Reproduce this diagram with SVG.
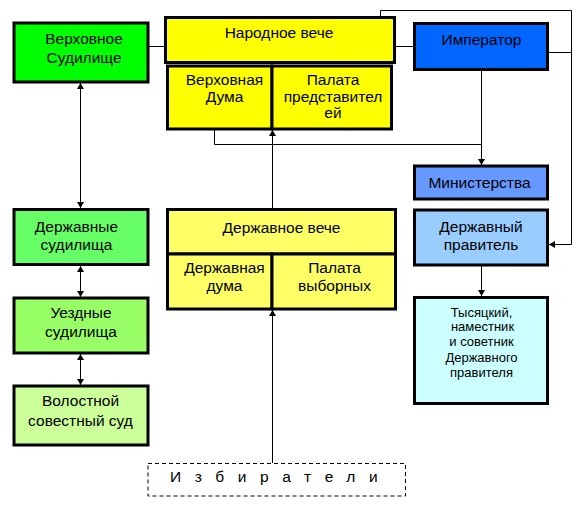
<svg xmlns="http://www.w3.org/2000/svg" width="580" height="506" viewBox="0 0 580 506">
<style>
.box{stroke:#000;stroke-width:3}
.t{font-family:"Liberation Sans",Arial,sans-serif;font-size:15.5px;fill:#000;text-anchor:middle}
.s{font-family:"Liberation Sans",Arial,sans-serif;font-size:13px;fill:#000;text-anchor:middle}
.c{fill:none;stroke:#000;stroke-width:1}
</style>
<defs>
<marker id="ar" viewBox="0 0 6 7" refX="6" refY="3.5" markerWidth="6" markerHeight="7" markerUnits="userSpaceOnUse" orient="auto-start-reverse">
<path d="M0,0 L6,3.5 L0,7 z" fill="#000"/>
</marker>
</defs>
<rect width="580" height="506" fill="#fff"/>
<g id="connectors">
<line class="c" x1="148" y1="46.5" x2="165" y2="46.5"/>
<line class="c" x1="395" y1="46.5" x2="414" y2="46.5"/>
<line class="c" x1="80.5" y1="83" x2="80.5" y2="208" marker-start="url(#ar)" marker-end="url(#ar)"/>
<line class="c" x1="80.5" y1="266" x2="80.5" y2="297" marker-start="url(#ar)" marker-end="url(#ar)"/>
<line class="c" x1="80.5" y1="354" x2="80.5" y2="385" marker-start="url(#ar)" marker-end="url(#ar)"/>
<line class="c" x1="272.5" y1="209" x2="272.5" y2="130" marker-end="url(#ar)"/>
<line class="c" x1="272.5" y1="463" x2="272.5" y2="310" marker-end="url(#ar)"/>
<polyline class="c" points="214.5,130 214.5,144.5 481.5,144.5"/>
<line class="c" x1="481.5" y1="71" x2="481.5" y2="165" marker-end="url(#ar)"/>
<line class="c" x1="481.5" y1="266" x2="481.5" y2="296" marker-end="url(#ar)"/>
<polyline class="c" points="380.5,17 380.5,10.5 571.5,10.5 571.5,244.5 549,244.5" marker-end="url(#ar)"/>
<line class="c" x1="549" y1="52.5" x2="571.5" y2="52.5"/>
</g>
<g id="verkhovnoe-sudilishche">
<rect class="box" x="14" y="23" width="134" height="59" fill="#00ff00"/>
<text class="t" x="84" y="44">Верховное</text>
<text class="t" x="84" y="63">Судилище</text>
</g>
<g id="narodnoe-veche">
<rect class="box" x="165.5" y="17.5" width="229" height="45" fill="#ffff00"/>
<text class="t" x="279" y="38">Народное вече</text>
</g>
<g id="verkhovnaya-duma">
<rect class="box" x="167.5" y="66" width="104.5" height="63" fill="#ffff00"/>
<text class="t" x="224.5" y="85">Верховная</text>
<text class="t" x="224.5" y="101.7">Дума</text>
</g>
<g id="palata-predstaviteley">
<rect class="box" x="272" y="66" width="119.5" height="63" fill="#ffff00"/>
<text class="t" x="333" y="85">Палата</text>
<text class="t" x="333" y="101.7">представител</text>
<text class="t" x="333" y="118.4">ей</text>
</g>
<g id="imperator">
<rect class="box" x="414.5" y="23.5" width="133" height="46" fill="#0066ff"/>
<text class="t" x="481.5" y="45">Император</text>
</g>
<g id="ministerstva">
<rect class="box" x="414.5" y="166" width="133" height="33" fill="#6699ff"/>
<text class="t" x="479.5" y="187.7">Министерства</text>
</g>
<g id="derzhavny-pravitel">
<rect class="box" x="414.5" y="210" width="133" height="55" fill="#99ccff"/>
<text class="t" x="481" y="231.7">Державный</text>
<text class="t" x="481" y="250">правитель</text>
</g>
<g id="tysyatsky">
<rect class="box" x="414.5" y="297.5" width="133" height="106" fill="#ccffff"/>
<text class="s" x="481.5" y="316.7">Тысяцкий,</text>
<text class="s" x="482.5" y="331">наместник</text>
<text class="s" x="481.5" y="346">и советник</text>
<text class="s" x="481.5" y="361.5">Державного</text>
<text class="s" x="481.5" y="376.5">правителя</text>
</g>
<g id="derzhavnoe-veche">
<rect class="box" x="167.5" y="209.5" width="228" height="44.5" fill="#ffff66"/>
<text class="t" x="281.5" y="232.7">Державное вече</text>
</g>
<g id="derzhavnaya-duma">
<rect class="box" x="167.5" y="254" width="104.5" height="55" fill="#ffff66"/>
<text class="t" x="224.5" y="273.3">Державная</text>
<text class="t" x="224.5" y="290.7">дума</text>
</g>
<g id="palata-vybornykh">
<rect class="box" x="272" y="254" width="123.5" height="55" fill="#ffff66"/>
<text class="t" x="334.5" y="273.3">Палата</text>
<text class="t" x="334.5" y="290.7">выборных</text>
</g>
<g id="derzhavnye-sudilishcha">
<rect class="box" x="14" y="209.5" width="134" height="55" fill="#66ff66"/>
<text class="t" x="76.5" y="231.7">Державные</text>
<text class="t" x="76.5" y="250">судилища</text>
</g>
<g id="uezdnye-sudilishcha">
<rect class="box" x="14" y="298" width="134" height="55" fill="#99ff66"/>
<text class="t" x="81" y="318">Уездные</text>
<text class="t" x="81" y="337">судилища</text>
</g>
<g id="volostnoy-sud">
<rect class="box" x="14" y="386" width="134" height="59" fill="#ccff99"/>
<text class="t" x="80.5" y="406">Волостной</text>
<text class="t" x="80.5" y="426">совестный суд</text>
</g>
<g id="izbirateli">
<rect x="148" y="463.5" width="257.5" height="32.5" fill="#fff" stroke="#000" stroke-width="1" stroke-dasharray="4,3"/>
<text x="170" y="481.7" font-family="Liberation Sans, Arial, sans-serif" font-size="15.5" letter-spacing="13.6">Избирател<tspan letter-spacing="0">и</tspan></text>
</g>
</svg>
